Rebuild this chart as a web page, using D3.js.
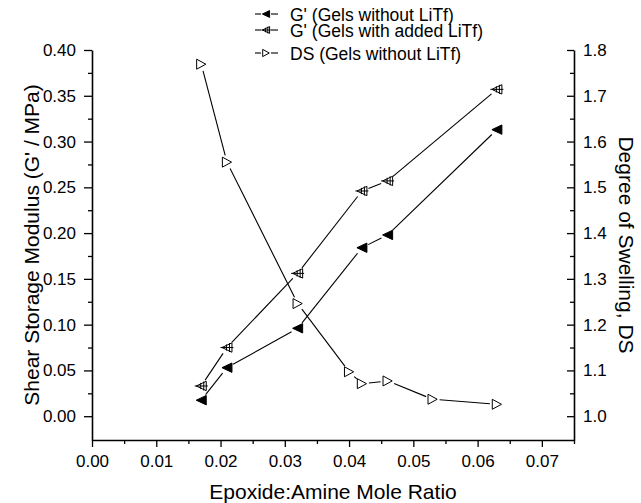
<!DOCTYPE html>
<html>
<head>
<meta charset="utf-8">
<title>Shear storage modulus and degree of swelling</title>
<script src="https://cdnjs.cloudflare.com/ajax/libs/d3/7.8.5/d3.min.js"></script>
<style>
    body { margin: 0; background: #fff; }
    svg text { font-family: "Liberation Sans", Arial, sans-serif; fill: #000; }
</style>
</head>
<body>
<script>
    // values
    var ratioG = [0.017, 0.021, 0.032, 0.042, 0.046, 0.063];
    var gNoSalt = [0.0175, 0.053, 0.096, 0.184, 0.198, 0.313];
    var gWithSalt = [0.033, 0.075, 0.156, 0.246, 0.257, 0.357];
    var ratioDS = [0.017, 0.021, 0.032, 0.040, 0.042, 0.046, 0.053, 0.063];
    var dsNoSalt = [1.769, 1.555, 1.246, 1.097, 1.071, 1.077, 1.037, 1.026];

    var xTicks = [0, 0.01, 0.02, 0.03, 0.04, 0.05, 0.06, 0.07];
    var yTicks = [0, 0.05, 0.10, 0.15, 0.20, 0.25, 0.30, 0.35, 0.40];
    var dsTicks = [1.0, 1.1, 1.2, 1.3, 1.4, 1.5, 1.6, 1.7, 1.8];
    var legendLabels = ["G' (Gels without LiTf)", "G' (Gels with added LiTf)", "DS (Gels without LiTf)"];

    var width = 641, height = 503,
        plotLeft = 92, plotRight = 574, plotTop = 50, plotBottom = 440;

    var svg = d3.select("body").append("svg")
        .attr("width", width)
        .attr("height", height);

    var x = d3.scaleLinear().domain([0, 0.075]).range([plotLeft, plotRight]);
    var y = d3.scaleLinear().domain([-0.026, 0.40]).range([plotBottom, plotTop]);
    var yR = d3.scaleLinear().domain([0.948, 1.8]).range([plotBottom, plotTop]);

    function mids(vals) { // minor ticks half way between the labelled ones
        return d3.pairs(vals).map(function(p){ return (p[0] + p[1]) / 2; });
    }

    function styleAxis(g, size) {
        g.select(".domain").attr("stroke-width", 1.6);
        g.selectAll(".tick line").attr("stroke-width", 1.3);
        g.selectAll("text").attr("font-size", size).attr("font-family", null);
    }

    function minorStyle(g) {
        g.select(".domain").remove();
        g.selectAll("line").attr("stroke-width", 1.3);
    }

    // bottom axis
    var gx = svg.append("g").attr("transform", "translate(0," + plotBottom + ")")
        .call(d3.axisBottom(x).tickValues(xTicks).tickFormat(d3.format(".2f"))
            .tickSize(7).tickSizeOuter(0).tickPadding(8));
    styleAxis(gx, 17);
    svg.append("g").attr("transform", "translate(0," + plotBottom + ")")
        .call(d3.axisBottom(x).tickValues(mids(xTicks.concat([0.08]))).tickFormat("")
            .tickSize(4).tickSizeOuter(0))
        .call(minorStyle);

    // left axis
    var gy = svg.append("g").attr("transform", "translate(" + plotLeft + ",0)")
        .call(d3.axisLeft(y).tickValues(yTicks).tickFormat(d3.format(".2f"))
            .tickSize(8).tickSizeOuter(0).tickPadding(8));
    styleAxis(gy, 17);
    svg.append("g").attr("transform", "translate(" + plotLeft + ",0)")
        .call(d3.axisLeft(y).tickValues(mids(yTicks)).tickFormat("")
            .tickSize(4).tickSizeOuter(0))
        .call(minorStyle);

    // right axis, ticks pointing inwards
    var gr = svg.append("g").attr("transform", "translate(" + plotRight + ",0)")
        .call(d3.axisRight(yR).tickValues(dsTicks).tickFormat(d3.format(".1f"))
            .tickSizeInner(-7).tickSizeOuter(0).tickPadding(9));
    styleAxis(gr, 17);
    svg.append("g").attr("transform", "translate(" + plotRight + ",0)")
        .call(d3.axisRight(yR).tickValues(mids(dsTicks)).tickFormat("")
            .tickSizeInner(-4).tickSizeOuter(0))
        .call(minorStyle);

    // axis titles
    svg.append("text")
        .attr("x", (plotLeft + plotRight) / 2).attr("y", 499)
        .attr("text-anchor", "middle").attr("font-size", 21)
        .text("Epoxide:Amine Mole Ratio");
    svg.append("text")
        .attr("transform", "translate(39," + (plotTop + plotBottom) / 2 + ") rotate(-90)")
        .attr("text-anchor", "middle").attr("font-size", 21)
        .text("Shear Storage Modulus (G' / MPa)");
    svg.append("text")
        .attr("transform", "translate(619," + (plotTop + plotBottom) / 2 + ") rotate(90)")
        .attr("text-anchor", "middle").attr("font-size", 21)
        .text("Degree of Swelling, DS");

    function drawMarker(g, kind, cx, cy, s) {
        var m = g.append("g").attr("transform", "translate(" + cx + "," + cy + ")");
        var w = 5 * s, h = 4.7 * s;
        if (kind === "filled") {
            m.append("path")
                .attr("d", "M" + (-w) + ",0L" + w + "," + (-h) + "L" + w + "," + h + "Z")
                .attr("fill", "#000").attr("stroke", "#000").attr("stroke-width", 1);
        } else if (kind === "hatched") {
            m.append("path")
                .attr("d", "M" + (-w) + ",0L" + w + "," + (-h) + "L" + w + "," + h + "Z")
                .attr("fill", "#fff").attr("stroke", "#000").attr("stroke-width", 1);
            var hatch = "M" + (-w - 1.5 * s) + ",0H" + (w + 1.5 * s);
            [-0.5, 2.5].forEach(function(v){
                var hh = h * (v * s + w) / (2 * w) + 1 * s;
                hatch += "M" + (v * s) + "," + (-hh) + "V" + hh;
            });
            m.append("path").attr("d", hatch)
                .attr("fill", "none").attr("stroke", "#000").attr("stroke-width", 1);
        } else {
            var w2 = 4.6 * s, h2 = 5 * s;
            m.append("path")
                .attr("d", "M" + w2 + ",0L" + (-w2) + "," + (-h2) + "L" + (-w2) + "," + h2 + "Z")
                .attr("fill", "#fff").attr("stroke", "#000").attr("stroke-width", 1);
        }
    }

    function drawSegments(g, pts, gap) {
        d3.pairs(pts).forEach(function(p){
            var dx = p[1][0] - p[0][0], dy = p[1][1] - p[0][1],
                len = Math.hypot(dx, dy);
            if (len <= 2 * gap) return;
            var ux = dx / len, uy = dy / len;
            g.append("line")
                .attr("x1", p[0][0] + ux * gap).attr("y1", p[0][1] + uy * gap)
                .attr("x2", p[1][0] - ux * gap).attr("y2", p[1][1] - uy * gap)
                .attr("stroke", "#000").attr("stroke-width", 1.1);
        });
    }

    var series = [
        { kind: "filled", pts: ratioG.map(function(r, i){ return [x(r), y(gNoSalt[i])]; }) },
        { kind: "hatched", pts: ratioG.map(function(r, i){ return [x(r), y(gWithSalt[i])]; }) },
        { kind: "open", pts: ratioDS.map(function(r, i){ return [x(r), yR(dsNoSalt[i])]; }) }
    ];

    var plot = svg.append("g");
    series.forEach(function(s){
        drawSegments(plot, s.pts, 7);
    });
    series.forEach(function(s){
        s.pts.forEach(function(p){ drawMarker(plot, s.kind, p[0], p[1], 1); });
    });

    // legend
    var legendRows = [14, 30, 53];
    var lg = svg.append("g");
    series.forEach(function(s, i){
        var ly = legendRows[i];
        drawSegments(lg, [[250, ly], [266, ly], [283, ly]], 5);
        drawMarker(lg, s.kind, 266, ly, 0.72);
        lg.append("text")
            .attr("x", 290).attr("y", ly + 6.5)
            .attr("font-size", 17.5)
            .text(legendLabels[i]);
    });
</script>
</body>
</html>
